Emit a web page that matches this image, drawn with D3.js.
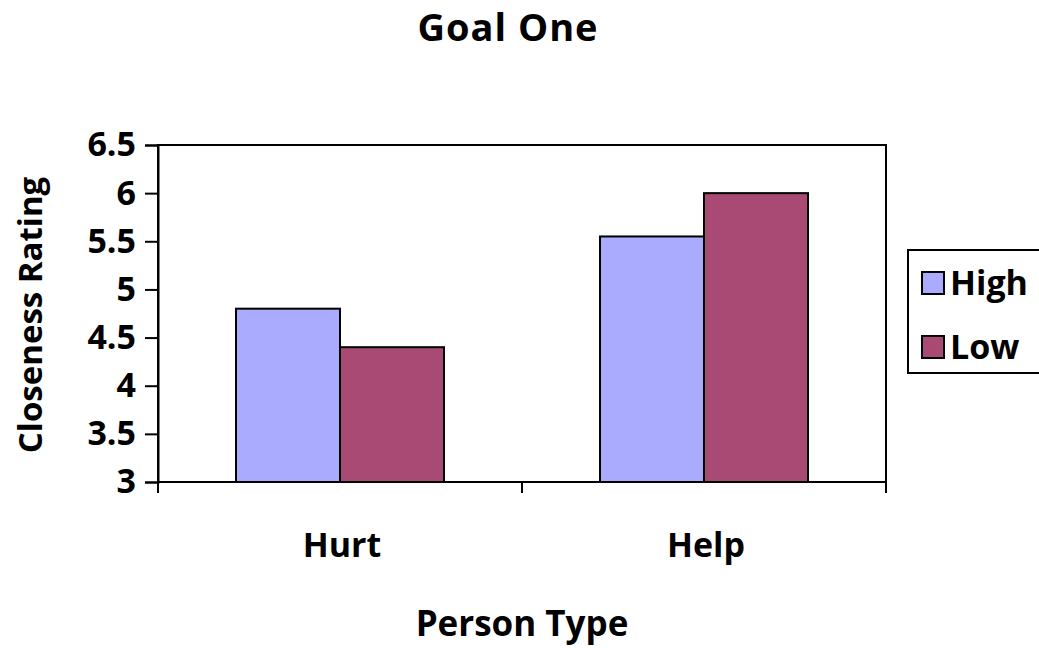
<!DOCTYPE html>
<html>
<head>
<meta charset="utf-8">
<script src="https://cdn.jsdelivr.net/npm/d3@7"></script>
<style>
  html, body { margin: 0; padding: 0; background: #fff; }
  svg { display: block; font-family: "Open Sans", "Lato", sans-serif; font-weight: 700; }
</style>
</head>
<body>
<svg id="chart" width="1039" height="652"></svg>
<script>
// Closeness rating by person type, split by High / Low group
const categories = ["Hurt", "Help"];
const seriesNames = ["High", "Low"];
const highValues = [4.80, 5.55];
const lowValues = [4.40, 6.00];
const seriesColors = ["#aaaaff", "#a94a74"];
const yTicks = [3, 3.5, 4, 4.5, 5, 5.5, 6, 6.5];

const svg = d3.select("#chart");
const plot = { left: 158, top: 145, right: 886, bottom: 482 };

const x0 = d3.scaleBand().domain(categories).range([plot.left, plot.right]).paddingInner(0).paddingOuter(0);
const y = d3.scaleLinear().domain([3, 6.5]).range([plot.bottom, plot.top]);

// Bars occupy 2/3.5 of each band (gap width 150%)
const groupWidth = x0.bandwidth() * 2 / 3.5;
const x1 = d3.scaleBand().domain(seriesNames).range([0, groupWidth]);

const rows = categories.map((c, i) => ({ cat: c, vals: [highValues[i], lowValues[i]] }));

// Plot frame
svg.append("rect")
  .attr("x", plot.left).attr("y", plot.top)
  .attr("width", plot.right - plot.left).attr("height", plot.bottom - plot.top)
  .attr("fill", "#fff").attr("stroke", "#000").attr("stroke-width", 2);

// Bars
const groups = svg.append("g").selectAll("g").data(rows).join("g")
  .attr("transform", d => `translate(${x0(d.cat) + (x0.bandwidth() - groupWidth) / 2},0)`);
groups.selectAll("rect")
  .data(d => d.vals.map((v, j) => ({ name: seriesNames[j], v, j })))
  .join("rect")
  .attr("x", d => x1(d.name))
  .attr("y", d => y(d.v))
  .attr("width", x1.bandwidth())
  .attr("height", d => y(3) - y(d.v))
  .attr("fill", d => seriesColors[d.j])
  .attr("stroke", "#000").attr("stroke-width", 2);

// Y axis
const yAxis = svg.append("g")
  .attr("transform", `translate(${plot.left},0)`)
  .call(d3.axisLeft(y).tickValues(yTicks).tickSize(13).tickPadding(9).tickFormat(d3.format("")));
yAxis.select(".domain").attr("stroke", "#000").attr("stroke-width", 2);
yAxis.selectAll(".tick line").attr("stroke", "#000").attr("stroke-width", 2);
yAxis.selectAll(".tick text").attr("fill", "#000").style("font-size", "34px").style("font-weight", 700)
  .style("font-family", "'Open Sans', sans-serif");

// X axis with category separators
const xAxis = svg.append("g").attr("transform", `translate(0,${plot.bottom})`);
xAxis.append("line").attr("x1", plot.left).attr("x2", plot.right).attr("stroke", "#000").attr("stroke-width", 2);
const sepPositions = [plot.left, ...categories.map(c => x0(c) + x0.bandwidth())];
xAxis.selectAll("line.sep").data(sepPositions).join("line").attr("class", "sep")
  .attr("x1", d => d).attr("x2", d => d).attr("y1", 0).attr("y2", 11)
  .attr("stroke", "#000").attr("stroke-width", 2);
xAxis.selectAll("text").data(categories).join("text")
  .attr("x", d => x0(d) + x0.bandwidth() / 2 + 2).attr("y", 75)
  .attr("text-anchor", "middle").style("font-size", "34px").text(d => d);

// Titles
svg.append("text").attr("x", 508).attr("y", 41).attr("text-anchor", "middle")
  .style("font-size", "38px").style("letter-spacing", "1px").text("Goal One");
svg.append("text").attr("x", 522).attr("y", 636).attr("text-anchor", "middle")
  .style("font-size", "35px").text("Person Type");
svg.append("text").attr("transform", "translate(42,315) rotate(-90)").attr("text-anchor", "middle")
  .style("font-size", "33px").text("Closeness Rating");

// Legend
const legend = svg.append("g");
legend.append("rect").attr("x", 908).attr("y", 250).attr("width", 150).attr("height", 123)
  .attr("fill", "#fff").attr("stroke", "#000").attr("stroke-width", 2);
const items = legend.selectAll("g.item").data(seriesNames).join("g").attr("class", "item")
  .attr("transform", (d, i) => `translate(922,${272 + i * 64})`);
items.append("rect").attr("width", 22).attr("height", 22)
  .attr("fill", (d, i) => seriesColors[i]).attr("stroke", "#000").attr("stroke-width", 2);
items.append("text").attr("x", 28).attr("y", 23).style("font-size", "34px").text(d => d);
</script>
</body>
</html>
